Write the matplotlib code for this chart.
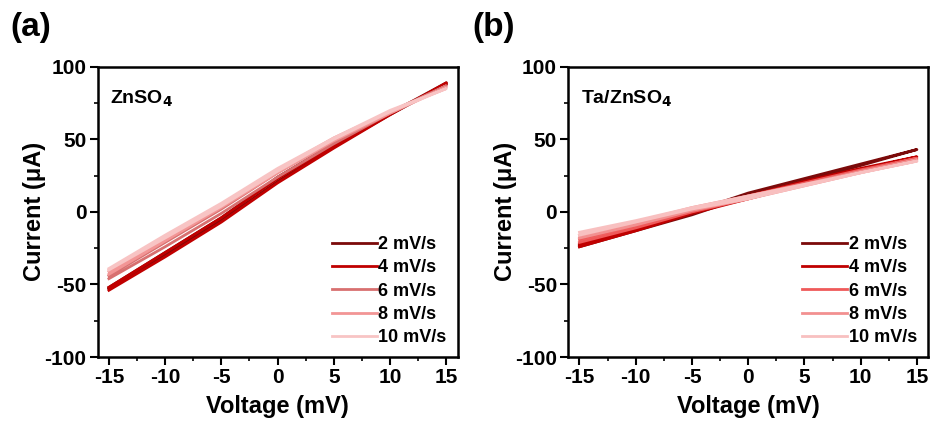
import matplotlib.pyplot as plt
from matplotlib.ticker import MultipleLocator
import numpy as np

plt.rcParams['font.family'] = ['Liberation Sans', 'DejaVu Sans']
plt.rcParams['font.weight'] = 'bold'
plt.rcParams['mathtext.default'] = 'bf'
plt.rcParams['axes.unicode_minus'] = False

# voltage points (mV) for the forward and backward sweeps
v = [-15, -10, -5, 0, 5, 10, 15]
rates = ['2 mV/s', '4 mV/s', '6 mV/s', '8 mV/s', '10 mV/s']

# panel a: ZnSO4, current (uA) for each rate, [forward, backward]
a_2 = [[-53, -30, -6, 21, 45, 67, 88], [-52, -28, -4, 24, 47, 68, 89]]
a_4 = [[-54, -31, -7, 20, 44, 67, 89], [-52, -28, -4, 23, 46, 68, 88]]
a_6 = [[-46, -24, -1, 24, 47, 68, 87], [-44, -21, 2, 27, 49, 69, 87]]
a_8 = [[-43, -20, 3, 27, 49, 68, 86], [-41, -18, 5, 29, 51, 69, 86]]
a_10 = [[-40, -18, 4, 28, 50, 69, 85], [-39, -16, 6, 30, 51, 70, 85]]

# panel b: Ta/ZnSO4
b_2 = [[-24, -13, -2, 11, 21, 32, 43], [-23, -12, 0, 13, 23, 33, 43]]
b_4 = [[-24, -13, -1, 9, 19, 29, 38], [-22, -11, 1, 11, 21, 30, 38]]
b_6 = [[-21, -11, 0, 9, 19, 28, 37], [-19, -9, 2, 11, 20, 29, 37]]
b_8 = [[-18, -9, 1, 9, 18, 27, 36], [-16, -7, 3, 11, 19, 28, 36]]
b_10 = [[-16, -7, 2, 9, 18, 27, 35], [-14, -6, 3, 11, 19, 27, 35]]

cols_a = ['#7b0a0a', '#c00000', '#d87070', '#f29595', '#f8c4c4']
cols_b = ['#7b0a0a', '#c00000', '#ef5a5a', '#f29090', '#f8c0c0']

fig = plt.figure(figsize=(9.3, 4.23), dpi=100)
ax1 = fig.add_axes([0.105, 0.156, 0.387, 0.686])
ax2 = fig.add_axes([0.611, 0.156, 0.387, 0.686])

panels = [(ax1, [a_2, a_4, a_6, a_8, a_10], cols_a, 'ZnSO$_4$', '(a)', 10),
          (ax2, [b_2, b_4, b_6, b_8, b_10], cols_b, 'Ta/ZnSO$_4$', '(b)', 472)]

for ax, data, cols, name, lab, lx in panels:
    for d, c, r in zip(data, cols, rates):
        x = v + v[::-1]
        y = d[0] + d[1][::-1]
        ax.plot(x, y, color=c, lw=2, label=r)
    ax.set_xlim(-16, 16)
    ax.set_ylim(-100, 100)
    ax.set_xticks([-15, -10, -5, 0, 5, 10, 15])
    ax.set_yticks([-100, -50, 0, 50, 100])
    ax.xaxis.set_minor_locator(MultipleLocator(2.5))
    ax.yaxis.set_minor_locator(MultipleLocator(25))
    ax.tick_params(which='major', direction='out', length=6, width=1.5,
                   labelsize=15, top=False, right=False, pad=2)
    ax.tick_params(which='minor', direction='out', length=3, width=1.2,
                   top=False, right=False)
    for s in ax.spines.values():
        s.set_linewidth(1.8)
    ax.set_xlabel('Voltage (mV)', fontsize=17, fontweight='bold', labelpad=6)
    ax.set_ylabel('Current (μA)', fontsize=17, fontweight='bold', labelpad=-1)
    ax.text(0.035, 0.925, name, transform=ax.transAxes, fontsize=14,
            fontweight='bold', va='top')
    ax.legend(loc='lower right', frameon=False, fontsize=13,
              handlelength=2.5, handletextpad=0.1, labelspacing=0.35,
              borderaxespad=0.2)
    fig.text(lx / 930, 1 - 12 / 423, lab, fontsize=24, fontweight='bold',
             va='top')

fig.savefig('out.png', dpi=100)
